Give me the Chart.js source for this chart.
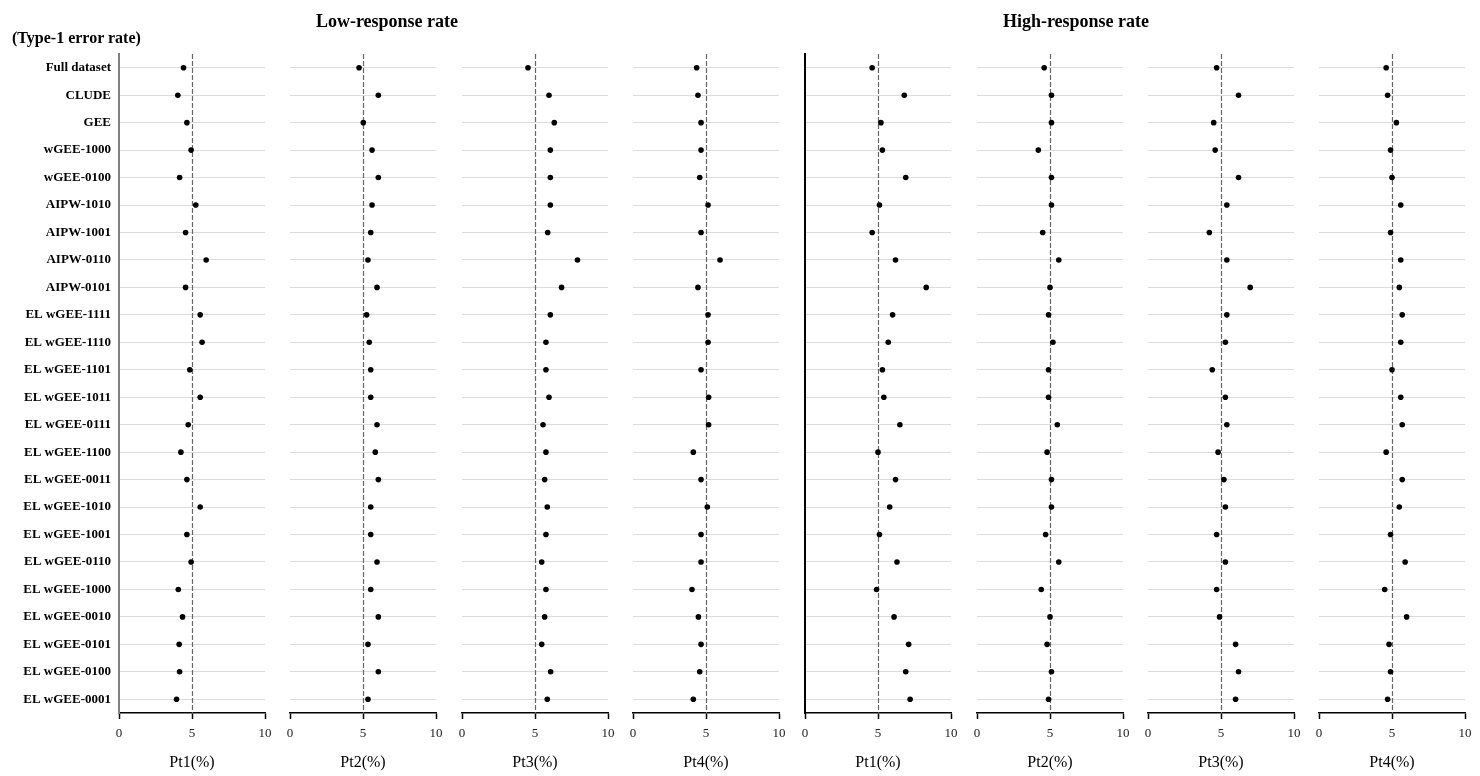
<!DOCTYPE html>
<html><head><meta charset="utf-8">
<script src="https://cdn.jsdelivr.net/npm/chart.js@4/dist/chart.umd.min.js"></script>
<style>
html,body{margin:0;padding:0;background:#fff;}
body{width:1480px;height:776px;position:relative;overflow:hidden;font-family:"Liberation Serif","Times New Roman",serif;}
.t{position:absolute;font-weight:bold;line-height:1;white-space:nowrap;color:#000;}
canvas{position:absolute;top:0;}
</style></head><body>
<div id="wrap"></div>
<div class="t" style="font-size:18px;top:12px;left:387px;transform:translateX(-50%)">Low-response rate</div>
<div class="t" style="font-size:18px;top:12px;left:1076px;transform:translateX(-50%)">High-response rate</div>
<div class="t" style="font-size:16px;top:30px;left:12px;">(Type-1 error rate)</div>
<script>
const rowLabels = ["Full dataset","CLUDE","GEE","wGEE-1000","wGEE-0100","AIPW-1010","AIPW-1001","AIPW-0110","AIPW-0101",
  "EL wGEE-1111","EL wGEE-1110","EL wGEE-1101","EL wGEE-1011","EL wGEE-0111","EL wGEE-1100","EL wGEE-0011",
  "EL wGEE-1010","EL wGEE-1001","EL wGEE-0110","EL wGEE-1000","EL wGEE-0010","EL wGEE-0101","EL wGEE-0100","EL wGEE-0001"];
const tickValues = [0, 5, 10];
const axisTitles = ["Pt1(%)","Pt2(%)","Pt3(%)","Pt4(%)"];
const referenceValue = 5;

const lowPt1 = [4.42,4.03,4.65,4.94,4.15,5.26,4.56,5.97,4.56,5.56,5.69,4.85,5.56,4.74,4.24,4.65,5.56,4.65,4.94,4.06,4.35,4.12,4.15,3.94];
const lowPt2 = [4.73,6.05,5.02,5.62,6.05,5.62,5.53,5.34,5.96,5.25,5.43,5.53,5.53,5.96,5.84,6.05,5.53,5.53,5.96,5.53,6.05,5.34,6.05,5.34];
const lowPt3 = [4.52,5.96,6.32,6.05,6.05,6.05,5.87,7.91,6.82,6.05,5.75,5.75,5.96,5.55,5.75,5.66,5.84,5.75,5.46,5.75,5.66,5.46,6.07,5.84];
const lowPt4 = [4.36,4.45,4.66,4.66,4.57,5.14,4.66,5.96,4.45,5.14,5.14,4.66,5.18,5.18,4.13,4.66,5.09,4.66,4.66,4.04,4.48,4.66,4.57,4.13];
const highPt1 = [4.6,6.8,5.2,5.3,6.9,5.1,4.6,6.2,8.3,6.0,5.7,5.3,5.4,6.5,5.0,6.2,5.8,5.1,6.3,4.9,6.1,7.1,6.9,7.2];
const highPt2 = [4.6,5.1,5.1,4.2,5.1,5.1,4.5,5.6,5.0,4.9,5.2,4.9,4.9,5.5,4.8,5.1,5.1,4.7,5.6,4.4,5.0,4.8,5.1,4.9];
const highPt3 = [4.7,6.2,4.5,4.6,6.2,5.4,4.2,5.4,7.0,5.4,5.3,4.4,5.3,5.4,4.8,5.2,5.3,4.7,5.3,4.7,4.9,6.0,6.2,6.0];
const highPt4 = [4.6,4.7,5.3,4.9,5.0,5.6,4.9,5.6,5.5,5.7,5.6,5.0,5.6,5.7,4.6,5.7,5.5,4.9,5.9,4.5,6.0,4.8,4.9,4.7];

const FONT = "'Liberation Serif','Times New Roman',serif";
const panelSeries = [lowPt1, lowPt2, lowPt3, lowPt4, highPt1, highPt2, highPt3, highPt4];
const panelZero = [119, 290, 462, 633, 805, 977, 1148, 1319];
const plotW = 146, side = 14;
const leftBorder = {0: '#808080', 4: '#000000'};

const refLine = {
  id: 'refLine',
  beforeDatasetsDraw(chart) {
    const {ctx, chartArea, scales} = chart;
    const px = Math.round(scales.x.getPixelForValue(referenceValue)) + 0.5;
    ctx.save();
    ctx.strokeStyle = '#666';
    ctx.lineWidth = 1.2;
    ctx.setLineDash([5, 2]);
    ctx.beginPath();
    ctx.moveTo(px, chartArea.top);
    ctx.lineTo(px, chartArea.bottom);
    ctx.stroke();
    ctx.restore();
  }
};

const wrap = document.getElementById('wrap');
panelSeries.forEach((vals, i) => {
  const first = i === 0;
  const yW = first ? panelZero[0] : 0;
  const padL = first ? 0 : side;
  const left = first ? 0 : panelZero[i] - side;
  const width = yW + padL + plotW + side;
  const cv = document.createElement('canvas');
  cv.width = width; cv.height = 776;
  cv.style.left = left + 'px';
  wrap.appendChild(cv);
  const border = leftBorder[i];
  new Chart(cv, {
    type: 'scatter',
    data: {
      datasets: [{
        data: vals.map((v, k) => ({x: v, y: rowLabels[k]})),
        pointRadius: 2.8, pointHoverRadius: 2.8,
        backgroundColor: '#000', borderColor: '#000', borderWidth: 0
      }]
    },
    options: {
      responsive: false, animation: false, devicePixelRatio: 1,
      events: [],
      layout: {padding: {top: 54, left: padL, right: side, bottom: 0}},
      plugins: {legend: {display: false}, tooltip: {enabled: false}},
      scales: {
        x: {
          type: 'linear', min: 0, max: 10, position: 'bottom',
          afterBuildTicks(s) { s.ticks = tickValues.map(v => ({value: v})); },
          ticks: {font: {family: FONT, size: 13}, color: '#222', padding: 7, maxRotation: 0, autoSkip: false},
          grid: {drawOnChartArea: false, drawTicks: true, tickLength: 6, tickColor: '#000', tickWidth: 1.5, color: '#000'},
          border: {display: true, color: '#000', width: 1.5},
          title: {display: true, text: axisTitles[i % 4], font: {family: FONT, size: 16}, color: '#000', padding: {top: 0, bottom: 4}},
          afterFit(s) { s.height = 63; s.paddingLeft = 0; s.paddingRight = 0; }
        },
        y: {
          type: 'category', labels: rowLabels, offset: true, position: 'left',
          ticks: {display: first, font: {family: FONT, size: 13, weight: 'bold'}, color: '#000', padding: 8, autoSkip: false},
          grid: {display: true, offset: false, drawTicks: false, color: '#dcdcdc', lineWidth: 1},
          border: {display: !!border, color: border || '#000', width: 2},
          afterFit(s) { s.width = yW; s.paddingTop = 0; s.paddingBottom = 0; }
        }
      }
    },
    plugins: [refLine]
  });
});
</script>
</body></html>
